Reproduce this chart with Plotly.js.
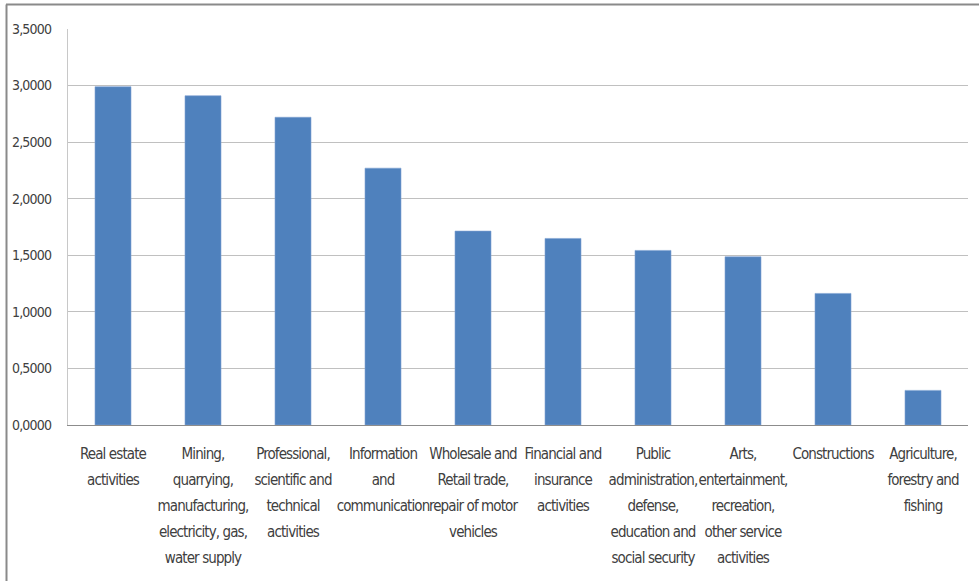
<!DOCTYPE html>
<html>
<head>
<meta charset="utf-8">
<script src="https://cdn.plot.ly/plotly-3.0.1.min.js"></script>
<style>
html,body{margin:0;padding:0;background:#fff;}
#chart{width:979px;height:581px;}
#chart .xtick text{letter-spacing:-0.9px;}
#chart .ytick text{letter-spacing:-0.8px;}
</style>
</head>
<body>
<div id="chart"></div>
<script>
var categories = [
  "Real estate<br>activities",
  "Mining,<br>quarrying,<br>manufacturing,<br>electricity, gas,<br>water supply",
  "Professional,<br>scientific and<br>technical<br>activities",
  "Information<br>and<br>communication",
  "Wholesale and<br>Retail trade,<br>repair of motor<br>vehicles",
  "Financial and<br>insurance<br>activities",
  "Public<br>administration,<br>defense,<br>education and<br>social security",
  "Arts,<br>entertainment,<br>recreation,<br>other service<br>activities",
  "Constructions",
  "Agriculture,<br>forestry and<br>fishing"
];
var values = [2.99, 2.91, 2.72, 2.27, 1.714, 1.649, 1.543, 1.487, 1.163, 0.306];
var yTicks = [0, 0.5, 1, 1.5, 2, 2.5, 3, 3.5];

var FONT = "DejaVu Sans Condensed, Liberation Sans Narrow, sans-serif";
var ids = categories.map(function(c, i){ return "c" + i; });
var tickText = categories.map(function(c){
  return c.split("<br>").map(function(l){
    return '<span style="font-size:15px">' + l + '</span>';
  }).join("<br>");
});

var W = 979, H = 581, ML = 68, MR = 11, MT = 29, MB = 156;
var PW = W - ML - MR, PH = H - MT - MB;

var trace = {
  type: "bar",
  x: ids,
  y: values,
  marker: {color: "#4F81BD", line: {color: "#7fa3d3", width: 0.6}},
  width: 0.4,
  hoverinfo: "y"
};

var layout = {
  width: W, height: H,
  margin: {l: ML, r: MR, t: MT, b: MB, pad: 0},
  paper_bgcolor: "#ffffff",
  plot_bgcolor: "#ffffff",
  separators: ",.",
  showlegend: false,
  bargap: 0.6,
  xaxis: {
    type: "category",
    tickmode: "array",
    tickvals: ids,
    ticktext: tickText,
    tickangle: 0,
    showgrid: false,
    showline: true,
    linecolor: "#8c8c8c",
    linewidth: 1,
    ticks: "",
    ticklabelstandoff: 9,
    tickfont: {family: FONT, size: 20, color: "#404040"},
    automargin: false,
    fixedrange: true
  },
  yaxis: {
    range: [0, 3.5],
    tickmode: "array",
    tickvals: yTicks,
    tickformat: ".4f",
    showgrid: true,
    gridcolor: "#c0c0c0",
    gridwidth: 1,
    showline: true,
    linecolor: "#c8c8c8",
    linewidth: 1,
    zeroline: false,
    ticks: "",
    ticklabelstandoff: 13,
    tickfont: {family: FONT, size: 14, color: "#404040"},
    automargin: false,
    fixedrange: true
  },
  shapes: [
    {type: "line", xref: "paper", yref: "paper",
     x0: (6 - ML) / PW, x1: (W + 5 - ML) / PW,
     y0: 1 + (MT - 4.5) / PH, y1: 1 + (MT - 4.5) / PH,
     line: {color: "#8a8a8a", width: 2}},
    {type: "line", xref: "paper", yref: "paper",
     x0: (6.5 - ML) / PW, x1: (6.5 - ML) / PW,
     y0: 1 + (MT - 4.5) / PH, y1: -(MB + 10) / PH,
     line: {color: "#8a8a8a", width: 2}}
  ]
};

Plotly.newPlot("chart", [trace], layout, {displayModeBar: false, staticPlot: true});
</script>
</body>
</html>
